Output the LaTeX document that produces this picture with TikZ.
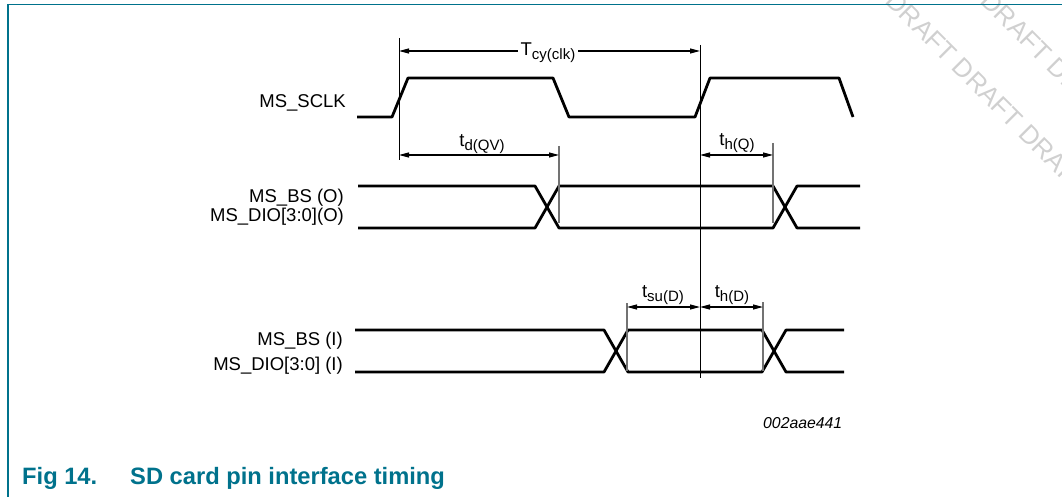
\documentclass[tikz,border=0pt]{standalone}
\usepackage{fontspec}
\setmainfont{Liberation Sans}
\usetikzlibrary{arrows.meta}
\definecolor{nxpteal}{RGB}{0,114,140}
\definecolor{wmgray}{RGB}{208,208,208}
\newcommand{\lsub}[1]{\raisebox{-4pt}{\fontsize{15}{15}\selectfont #1}}
\begin{document}
\begin{tikzpicture}[x=1pt,y=-1pt,
  sig/.style={line width=2.8pt, line join=round},
  refl/.style={line width=1pt, black},
  refg/.style={line width=1.2pt, black!55},
  dim/.style={line width=1.1pt, {Triangle[length=10pt,width=5pt]}-{Triangle[length=10pt,width=5pt]}},
  siglabel/.style={font=\fontsize{18.5}{20}\selectfont, inner sep=0pt, anchor=base east},
  tlabel/.style={font=\fontsize{18.5}{20}\selectfont, inner sep=0pt, anchor=base},
  caption/.style={font=\bfseries\fontsize{23.7}{26}\selectfont, text=nxpteal, inner sep=0pt, anchor=base west},
  wmark/.style={font=\fontsize{26}{28}\selectfont, text=wmgray, inner sep=0pt, anchor=base west, rotate=-45}
]
\useasboundingbox (0,0) rectangle (1062,497);
% watermark
\begin{scope}
\clip (0,0) rectangle (1062,497);
\node[wmark] (wm1) at (818,-64) {DRAFT DRAFT DRAFT DRAFT};
\node[wmark] (wm2) at (913,-64) {DRAFT DRAFT DRAFT};
\end{scope}
% frame
\draw[nxpteal, line width=1.6pt] (1062,4.5) -- (8,4.5) -- (8,497);

% signal labels
\node[siglabel] (lclk) at (346,108) {MS\_SCLK};
\node[siglabel] (lbso) at (344,202) {MS\_BS (O)};
\node[siglabel] (ldioo) at (344,222) {MS\_DIO[3:0](O)};
\node[siglabel] (lbsi) at (343,345) {MS\_BS (I)};
\node[siglabel] (ldioi) at (343,370) {MS\_DIO[3:0] (I)};

% clock
\draw[sig] (357,117) -- (392,117) -- (408,78) -- (553,78) -- (569,117) -- (695,117) -- (710,78) -- (839,78) -- (853,117);

% output bus
\draw[sig] (358,186) -- (535,186) -- (559,228) -- (773,228) -- (797,186) -- (860,186);
\draw[sig] (358,228) -- (535,228) -- (559,186) -- (773,186) -- (797,228) -- (860,228);

% input bus
\draw[sig] (355,330) -- (604,330) -- (628,372) -- (762,372) -- (786,330) -- (844,330);
\draw[sig] (355,372) -- (604,372) -- (628,330) -- (762,330) -- (786,372) -- (844,372);

% reference lines
\coordinate (r1t) at (399,38);  \coordinate (r1b) at (399,160);
\coordinate (r2t) at (700,45);  \coordinate (r2b) at (700,378);
\coordinate (r3t) at (559,146); \coordinate (r3b) at (559,223);
\coordinate (r4t) at (773,143); \coordinate (r4b) at (773,223);
\coordinate (r5t) at (627,303); \coordinate (r5b) at (627,371);
\coordinate (r6t) at (763,302); \coordinate (r6b) at (763,371);
\draw[refl] (r1t) -- (r1b);
\draw[refl] (r2t) -- (r2b);
\draw[refg] (r3t) -- (r3b);
\draw[refg] (r4t) -- (r4b);
\draw[refg] (r5t) -- (r5b);
\draw[refg] (r6t) -- (r6b);

% dimension arrows
\coordinate (tcyA) at (399,51);  \coordinate (tcyB) at (700,51);
\coordinate (tdA) at (399,155);  \coordinate (tdB) at (559,155);
\coordinate (thqA) at (700,155); \coordinate (thqB) at (773,155);
\coordinate (tsuA) at (627,307); \coordinate (tsuB) at (700,307);
\coordinate (thdA) at (700,307); \coordinate (thdB) at (763,307);
\draw[dim] (tcyA) -- (tcyB);
\draw[dim] (tdA) -- (tdB);
\draw[dim] (thqA) -- (thqB);
\draw[dim] (tsuA) -- (tsuB);
\draw[dim] (thdA) -- (thdB);

% timing labels
\node[tlabel, fill=white, inner xsep=3pt, inner ysep=2pt] (ltcy) at (548,56) {T\lsub{cy(clk)}};
\node[tlabel] (ltd) at (482,147) {t\lsub{d(QV)}};
\node[tlabel] (lthq) at (737,146) {t\lsub{h(Q)}};
\node[tlabel] (ltsu) at (663,297) {t\lsub{su(D)}};
\node[tlabel] (lthd) at (732,297) {t\lsub{h(D)}};

% figure id and caption
\node[font=\itshape\fontsize{15.8}{17}\selectfont, inner sep=0pt, anchor=base west] (fid) at (763,428) {002aae441};
\node[caption] (cap1) at (22,484) {Fig 14.};
\node[caption] (cap2) at (130,484) {SD card pin interface timing};
\end{tikzpicture}
\end{document}
